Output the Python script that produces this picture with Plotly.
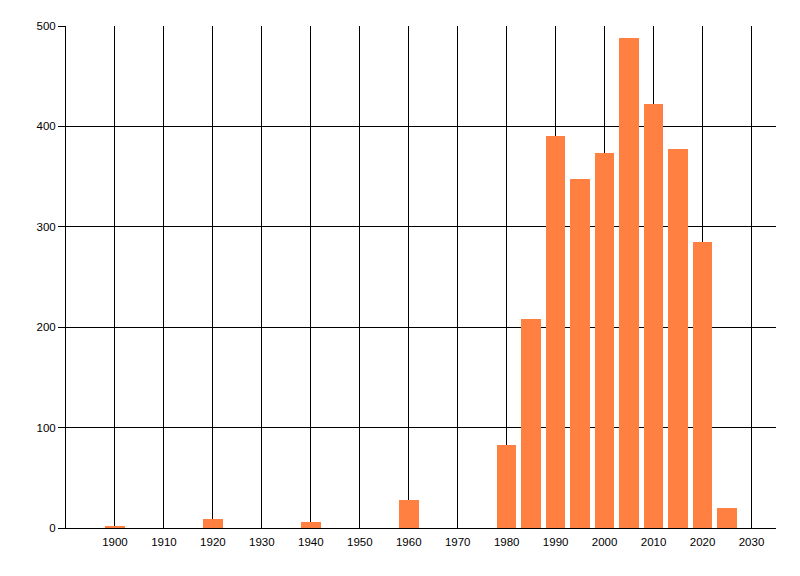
import plotly.graph_objects as go

years = [1900, 1920, 1940, 1960, 1980, 1985, 1990, 1995, 2000, 2005, 2010, 2015, 2020, 2025]
counts = [2, 9, 6, 28, 83, 208, 390, 348, 374, 488, 422, 377, 285, 20]
x_ticks = [1900, 1910, 1920, 1930, 1940, 1950, 1960, 1970, 1980, 1990, 2000, 2010, 2020, 2030]
y_ticks = [0, 100, 200, 300, 400, 500]

fig = go.Figure(go.Bar(x=years, y=counts, width=4, marker=dict(color="#FF8040", line=dict(width=0))))

fig.update_layout(
    width=800, height=576,
    margin=dict(l=58, r=32, t=18, b=56),
    paper_bgcolor="white", plot_bgcolor="white",
    font=dict(family="Liberation Sans, Arial, sans-serif", size=11.5, color="black"),
    showlegend=False,
    bargap=0,
)
fig.update_xaxes(
    range=[1890, 2035], tickvals=x_ticks, ticktext=[str(v) for v in x_ticks],
    showgrid=True, gridcolor="black", gridwidth=1,
    showline=True, linecolor="black", linewidth=1,
    ticks="", zeroline=False, ticklabelstandoff=3,
)
fig.update_yaxes(
    range=[0, 500], tickvals=y_ticks, ticktext=[str(v) for v in y_ticks],
    showgrid=True, gridcolor="black", gridwidth=1,
    showline=True, linecolor="black", linewidth=1,
    ticks="outside", ticklen=7, tickcolor="black", zeroline=False,
)

fig.write_html("out.html")
